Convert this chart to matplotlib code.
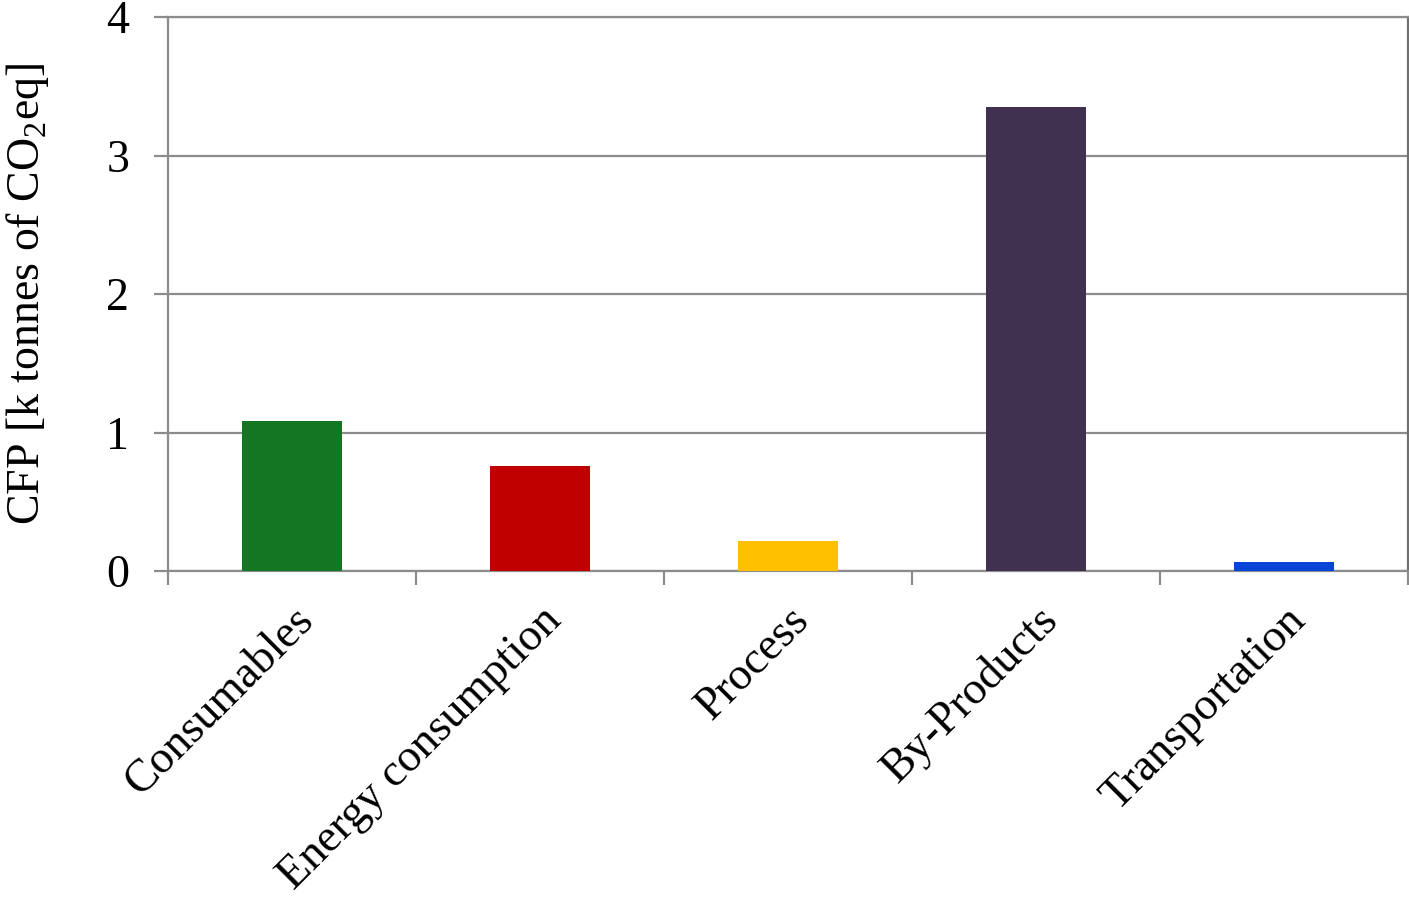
import matplotlib.pyplot as plt
import numpy as np

plt.rcParams["font.family"] = ["Liberation Serif", "DejaVu Serif"]
plt.rcParams["mathtext.fontset"] = "custom"
plt.rcParams["mathtext.rm"] = "Liberation Serif"

# data
categories = ["Consumables", "Energy consumption", "Process", "By-Products", "Transportation"]
values = [1.08, 0.76, 0.22, 3.35, 0.065]
colors = ["#127623", "#C00000", "#FFC000", "#403151", "#0645D8"]
yticks = [0, 1, 2, 3, 4]

fig = plt.figure(figsize=(14.09, 8.97), dpi=100)
ax = fig.add_axes([168 / 1409, 1 - 571 / 897, 1240 / 1409, 554 / 897])

x = np.arange(len(categories))
ax.bar(x, values, width=0.4, color=colors, zorder=3)

ax.set_xlim(-0.5, len(categories) - 0.5)
ax.set_ylim(0, 4)
ax.set_yticks(yticks)
ax.set_yticklabels([str(t) for t in yticks], fontsize=33)
ax.yaxis.grid(True, color="#8c8c8c", linewidth=1.6, zorder=0)

# category labels at centers, tick marks at boundaries
ax.set_xticks(x)
ax.set_xticklabels(categories, rotation=45, ha="right", rotation_mode="anchor", fontsize=33)
ax.tick_params(axis="x", length=0, pad=20)
ax.set_xticks(np.arange(-0.5, len(categories)), minor=True)
ax.tick_params(axis="x", which="minor", length=10, width=1.6, color="#8c8c8c")
ax.tick_params(axis="y", length=10, width=1.6, color="#8c8c8c", pad=18)

for side in ["left", "bottom", "top"]:
    ax.spines[side].set_color("#8c8c8c")
    ax.spines[side].set_linewidth(1.6)
ax.spines["right"].set_color("#707070")
ax.spines["right"].set_linewidth(1.6)

ax.set_ylabel(r"CFP [k tonnes of CO$_\mathregular{2}$eq]", fontsize=33, labelpad=40)

fig.savefig("out.png", dpi=100)
